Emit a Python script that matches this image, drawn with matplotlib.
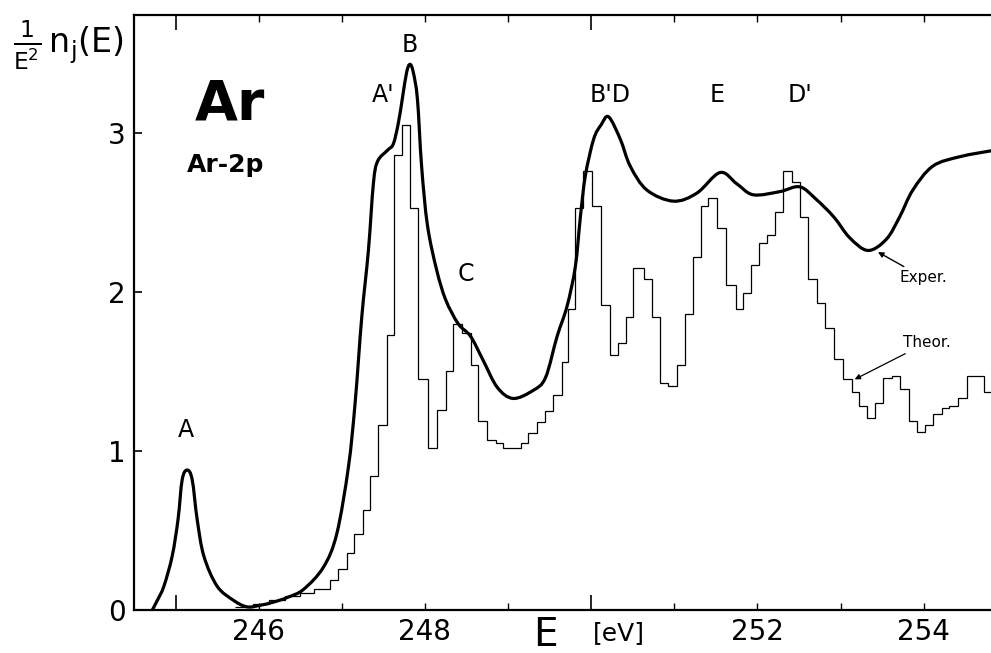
import numpy as np
import matplotlib.pyplot as plt
from matplotlib.path import Path
from matplotlib.patches import PathPatch

# experimental curve (thick line)
E_exp = [244.72, 244.78, 244.86, 244.96, 245.03, 245.08, 245.14, 245.20, 245.26, 245.34,
         245.50, 245.70, 245.86, 246.02, 246.18, 246.35, 246.54, 246.78, 246.94, 247.08,
         247.16, 247.24, 247.32, 247.38, 247.43, 247.55, 247.62, 247.68, 247.73, 247.78,
         247.82, 247.86, 247.91, 247.96, 248.03, 248.14, 248.25, 248.40, 248.55, 248.70,
         248.87, 249.06, 249.30, 249.45, 249.59, 249.71, 249.81, 249.87, 249.93, 250.03,
         250.12, 250.21, 250.35, 250.47, 250.67, 250.99, 251.27, 251.55, 251.75, 251.95,
         252.27, 252.51, 252.71, 252.92, 253.11, 253.33, 253.55, 253.71, 253.87, 254.11,
         254.44, 254.85]
n_exp = [0.00, 0.06, 0.15, 0.34, 0.57, 0.82, 0.88, 0.82, 0.57, 0.34,
         0.15, 0.06, 0.02, 0.03, 0.05, 0.08, 0.13, 0.27, 0.48, 0.90,
         1.30, 1.84, 2.26, 2.68, 2.82, 2.89, 2.93, 3.06, 3.22, 3.38,
         3.43, 3.38, 3.21, 2.79, 2.42, 2.14, 1.95, 1.80, 1.72, 1.57,
         1.40, 1.33, 1.38, 1.46, 1.72, 1.91, 2.16, 2.47, 2.73, 2.96,
         3.05, 3.10, 2.96, 2.79, 2.64, 2.57, 2.62, 2.75, 2.68, 2.61,
         2.63, 2.66, 2.58, 2.47, 2.34, 2.26, 2.33, 2.47, 2.64, 2.79,
         2.85, 2.89]

# theoretical histogram (thin steps)
E_edges = [245.72, 245.93, 246.12, 246.32, 246.50, 246.66, 246.86, 246.96, 247.06, 247.15,
           247.25, 247.34, 247.44, 247.54, 247.63, 247.73, 247.82, 247.92, 248.04, 248.15,
           248.25, 248.34, 248.45, 248.55, 248.64, 248.75, 248.85, 248.94, 249.15, 249.24,
           249.35, 249.45, 249.54, 249.65, 249.72, 249.81, 249.90, 250.01, 250.12, 250.23,
           250.32, 250.42, 250.50, 250.63, 250.73, 250.83, 250.93, 251.03, 251.13, 251.23,
           251.32, 251.41, 251.51, 251.62, 251.74, 251.83, 251.92, 252.02, 252.12, 252.21,
           252.31, 252.42, 252.51, 252.61, 252.72, 252.81, 252.92, 253.03, 253.14, 253.22,
           253.32, 253.41, 253.51, 253.62, 253.71, 253.82, 253.92, 254.01, 254.11, 254.22,
           254.31, 254.41, 254.52, 254.72, 254.92]
n_theor = [0.02, 0.04, 0.06, 0.09, 0.11, 0.13, 0.19, 0.26, 0.36, 0.48,
           0.63, 0.84, 1.16, 1.73, 2.86, 3.05, 2.53, 1.45, 1.02, 1.26,
           1.50, 1.80, 1.74, 1.54, 1.19, 1.07, 1.05, 1.02, 1.05, 1.11,
           1.18, 1.25, 1.35, 1.56, 1.89, 2.53, 2.76, 2.54, 1.92, 1.60,
           1.68, 1.84, 2.15, 2.08, 1.84, 1.43, 1.41, 1.54, 1.86, 2.22,
           2.54, 2.59, 2.40, 2.04, 1.89, 1.99, 2.17, 2.31, 2.36, 2.50,
           2.76, 2.69, 2.47, 2.08, 1.93, 1.77, 1.58, 1.45, 1.37, 1.28,
           1.21, 1.30, 1.46, 1.47, 1.39, 1.19, 1.12, 1.16, 1.23, 1.27,
           1.28, 1.33, 1.47, 1.37]

peak_names = ["A", "A'", "B", "C", "B'D", "E", "D'"]
peak_x = [245.13, 247.50, 247.82, 248.49, 250.23, 251.51, 252.51]
peak_y = [1.13, 3.24, 3.55, 2.11, 3.24, 3.24, 3.24]

x_labels = ["246", "", "248", "", "", "", "252", "", "254"]
y_ticks = [0, 1, 2, 3]


def smooth_path(xs, ys):
    # Catmull-Rom through the read points, drawn as cubic bezier segments
    p = np.column_stack([xs, ys])
    verts = [p[0]]
    codes = [Path.MOVETO]
    for i in range(len(p) - 1):
        p0 = p[max(i - 1, 0)]
        p1, p2 = p[i], p[i + 1]
        p3 = p[min(i + 2, len(p) - 1)]
        verts += [p1 + (p2 - p0) / 6, p2 - (p3 - p1) / 6, p2]
        codes += [Path.CURVE4] * 3
    return Path(verts, codes)


fig = plt.figure(figsize=(9.91, 6.53), dpi=100)
ax = fig.add_axes([0.1352, 0.0658, 0.8648, 0.9112])

ax.stairs(n_theor, E_edges, baseline=None, color="black", lw=0.9)
ax.add_patch(PathPatch(smooth_path(E_exp, n_exp), facecolor="none", edgecolor="black",
                       lw=2.3, capstyle="round", joinstyle="round"))

for s in ["left", "bottom", "top"]:
    ax.spines[s].set_linewidth(1.6)
ax.spines["right"].set_visible(False)

# long ticks at 245/250, short ones at every eV
ax.set_xticks([245, 250], labels=["", ""])
ax.set_xticks(list(range(246, 255)), labels=x_labels, minor=True)
ax.tick_params(axis="x", which="major", direction="in", length=11, width=1.2, top=True)
ax.tick_params(axis="x", which="minor", direction="in", length=5, width=1.0, top=True,
               labelsize=20, pad=6)
ax.set_yticks(y_ticks)
ax.tick_params(axis="y", direction="in", length=6, width=1.2, labelsize=20, pad=6)

# limits after the ticks, so the ticks do not widen the view
ax.set_xlim(244.5, 254.81)
ax.set_ylim(0, 3.74)

for name, x, y in zip(peak_names, peak_x, peak_y):
    ax.text(x, y, name, ha="center", va="center", fontsize=17)

ax.text(245.66, 3.18, "Ar", ha="center", va="center", fontsize=40, fontweight="bold")
ax.text(245.60, 2.80, "Ar-2p", ha="center", va="center", fontsize=18, fontweight="bold")

ax.annotate("Exper.", xy=(253.45, 2.25), xytext=(253.71, 2.09), fontsize=11,
            ha="left", va="center",
            arrowprops=dict(arrowstyle="-|>", color="black", lw=1.0,
                            mutation_scale=8, shrinkA=1, shrinkB=0))
ax.annotate("Theor.", xy=(253.17, 1.45), xytext=(253.75, 1.68), fontsize=11,
            ha="left", va="center",
            arrowprops=dict(arrowstyle="-|>", color="black", lw=0.9,
                            mutation_scale=8, shrinkA=1, shrinkB=0))

fig.text(0.069, 0.93, r"$\frac{1}{\mathrm{E}^{2}}\,\mathrm{n_j(E)}$",
         ha="center", va="center", fontsize=24)
fig.text(0.55, 0.027, "E", ha="center", va="center", fontsize=28)
fig.text(0.624, 0.03, "[eV]", ha="center", va="center", fontsize=18)

fig.savefig("out.png", dpi=100)
